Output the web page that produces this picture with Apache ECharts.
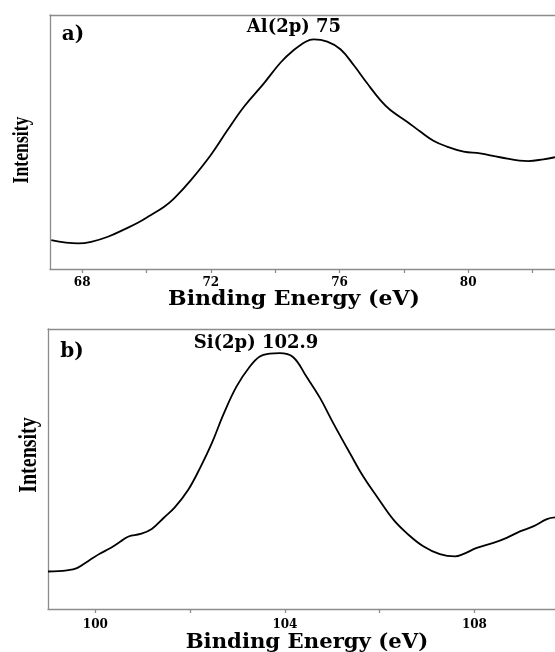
<!DOCTYPE html>
<html>
<head>
<meta charset="utf-8">
<script src="https://cdn.jsdelivr.net/npm/echarts@6/dist/echarts.min.js"></script>
<style>
html,body{margin:0;padding:0;background:#fff;}
#c{width:555px;height:652px;}
</style>
</head>
<body>
<div id="c"></div>
<script>
// Panel a: Al(2p)
const alEnergy = [67.04, 67.87, 68.28, 68.80, 69.31, 69.73, 70.14, 70.55, 70.86, 71.38, 72.0, 72.52, 73.03, 73.65, 74.17, 74.58, 74.95, 75.20, 75.62, 76.03, 76.44, 76.86, 77.27, 77.58, 78.10, 78.51, 78.92, 79.34, 79.86, 80.37, 80.99, 81.87, 82.34, 82.70];
const alIntensity = [11.4, 10.1, 10.7, 12.7, 15.6, 18.2, 21.3, 24.5, 27.8, 35.0, 44.9, 54.7, 63.9, 73.1, 81.3, 86.2, 89.5, 90.4, 89.5, 86.5, 80.3, 73.1, 66.5, 62.6, 58.0, 54.1, 50.5, 48.2, 46.2, 45.5, 44.0, 42.5, 43.2, 44.0];
const alTicks = [68, 70, 72, 74, 76, 78, 80, 82];
const alLabels = [68, 72, 76, 80];
const alRange = [67, 82.7];

// Panel b: Si(2p)
const siEnergy = [99.0, 99.40, 99.61, 99.89, 100.1, 100.32, 100.53, 100.70, 100.95, 101.19, 101.44, 101.68, 101.96, 102.21, 102.46, 102.70, 102.98, 103.26, 103.47, 103.68, 103.89, 104.17, 104.45, 104.74, 105.02, 105.37, 105.65, 105.94, 106.29, 106.57, 106.92, 107.27, 107.59, 107.76, 108.05, 108.40, 108.68, 108.96, 109.24, 109.53, 109.70];
const siIntensity = [13.4, 13.8, 14.6, 17.6, 19.8, 21.8, 24.1, 25.9, 26.8, 28.6, 32.5, 36.4, 42.6, 50.4, 59.3, 69.4, 79.5, 86.6, 90.2, 91.2, 91.4, 90.0, 83.1, 75.4, 66.4, 55.7, 47.4, 40.2, 31.9, 27.1, 22.4, 19.6, 18.8, 19.6, 21.8, 23.6, 25.4, 27.7, 29.5, 32.1, 32.7];
const siTicks = [100, 102, 104, 106, 108];
const siLabels = [100, 104, 108];
const siRange = [99, 109.7];

const xTitle = 'Binding Energy (eV)';
const yTitle = 'Intensity';
const labelA = 'a)';
const labelB = 'b)';
const peakA = 'Al(2p) 75';
const peakB = 'Si(2p) 102.9';

const frameColor = '#8c8c8c';
const serif = '"DejaVu Serif", "Liberation Serif", serif';

function bottomAxis(gridIndex, range, ticks, labels, margin) {
  return {
    type: 'value', gridIndex: gridIndex, position: 'bottom',
    min: range[0], max: range[1],
    splitLine: {show: false},
    axisLine: {show: true, onZero: false, lineStyle: {color: frameColor, width: 1.3}},
    axisTick: {show: true, length: 4, customValues: ticks, lineStyle: {color: frameColor, width: 1.3}},
    axisLabel: {show: true, customValues: labels, margin: margin, color: '#000',
      fontFamily: serif, fontWeight: 'bold', fontSize: 12}
  };
}
function topAxis(gridIndex, range) {
  return {
    type: 'value', gridIndex: gridIndex, position: 'top',
    min: range[0], max: range[1],
    splitLine: {show: false},
    axisLine: {show: true, onZero: false, lineStyle: {color: frameColor, width: 1.3}},
    axisTick: {show: false}, axisLabel: {show: false}
  };
}
function leftAxis(gridIndex) {
  return {
    type: 'value', gridIndex: gridIndex, min: 0, max: 100,
    splitLine: {show: false},
    axisLine: {show: true, lineStyle: {color: frameColor, width: 1.3}},
    axisTick: {show: false}, axisLabel: {show: false}
  };
}

function txt(x, y, text, font, extra) {
  return Object.assign({
    type: 'text', x: x, y: y,
    style: {text: text, font: font, fill: '#000', align: 'center', verticalAlign: 'middle'}
  }, extra || {});
}

const chart = echarts.init(document.getElementById('c'), null, {renderer: 'canvas'});
chart.setOption({
  backgroundColor: '#fff',
  animation: false,
  grid: [
    {left: 50, top: 15, right: 0, height: 254},
    {left: 48, top: 329, right: 0, height: 280}
  ],
  xAxis: [
    bottomAxis(0, alRange, alTicks, alLabels, 8),
    topAxis(0, alRange),
    bottomAxis(1, siRange, siTicks, siLabels, 10),
    topAxis(1, siRange)
  ],
  yAxis: [leftAxis(0), leftAxis(1)],
  series: [
    {type: 'line', xAxisIndex: 0, yAxisIndex: 0, showSymbol: false, smooth: 0.4,
      lineStyle: {color: '#000', width: 1.8},
      data: alEnergy.map((e, i) => [e, alIntensity[i]])},
    {type: 'line', xAxisIndex: 2, yAxisIndex: 1, showSymbol: false, smooth: 0.4,
      lineStyle: {color: '#000', width: 1.8},
      data: siEnergy.map((e, i) => [e, siIntensity[i]])}
  ],
  graphic: [
    txt(73, 35, labelA, 'bold 20px ' + serif),
    txt(294, 27, peakA, 'bold 18px ' + serif),
    txt(22, 150, yTitle, 'bold 23px "Liberation Serif", serif', {rotation: Math.PI / 2, scaleX: 0.77}),
    txt(294, 300, xTitle, 'bold 20px ' + serif, {scaleX: 1.1}),
    txt(72, 352, labelB, 'bold 20px ' + serif),
    txt(256, 343, peakB, 'bold 18px ' + serif),
    txt(30, 455, yTitle, 'bold 25px "Liberation Serif", serif', {rotation: Math.PI / 2, scaleX: 0.8}),
    txt(307, 643, xTitle, 'bold 20px ' + serif, {scaleX: 1.06})
  ]
});
</script>
</body>
</html>
